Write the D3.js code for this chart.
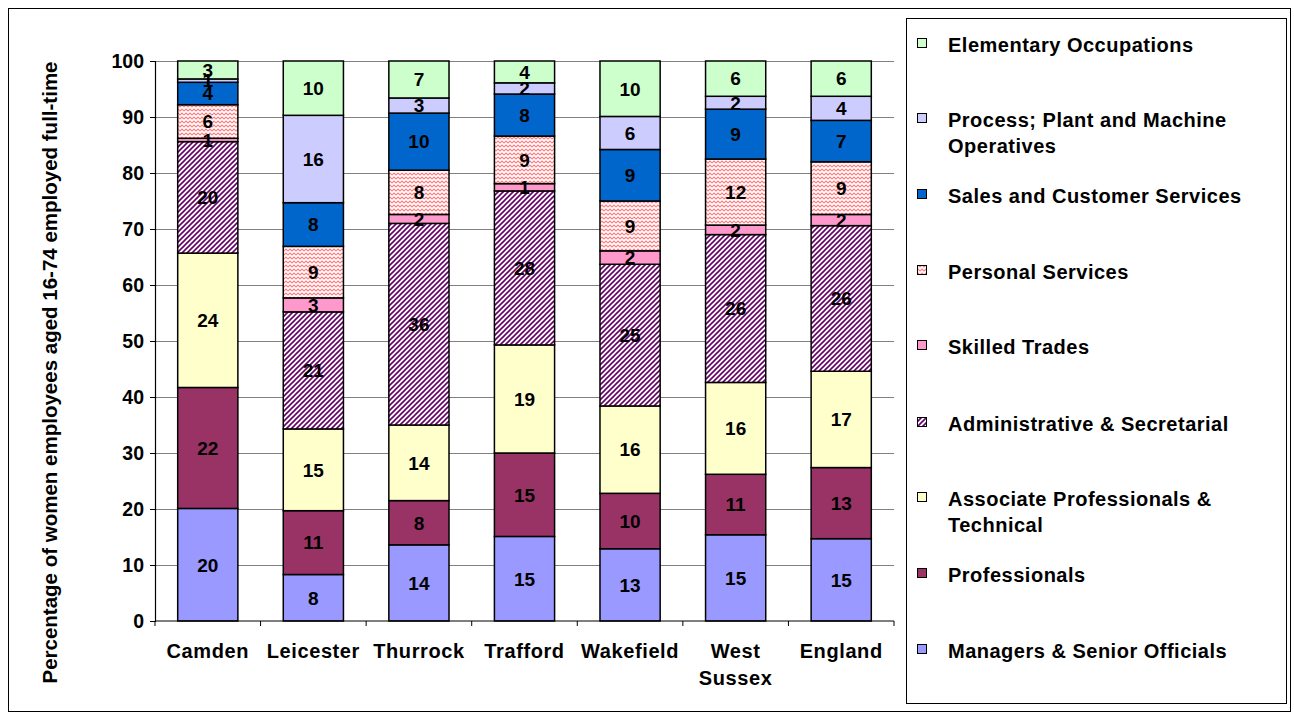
<!DOCTYPE html>
<html>
<head>
<meta charset="utf-8">
<script src="https://cdn.jsdelivr.net/npm/d3@7"></script>
<style>
  html, body { margin: 0; padding: 0; background: #fff; }
  svg { display: block; font-family: "Liberation Sans", Arial, sans-serif; font-weight: bold; }
</style>
</head>
<body>
<svg id="chart" width="1294" height="717"></svg>
<script>
// Areas and occupation groups
const areas = ["Camden", "Leicester", "Thurrock", "Trafford", "Wakefield", "West Sussex", "England"];
const occupations = [
  "Managers & Senior Officials",
  "Professionals",
  "Associate Professionals & Technical",
  "Administrative & Secretarial",
  "Skilled Trades",
  "Personal Services",
  "Sales and Customer Services",
  "Process; Plant and Machine Operatives",
  "Elementary Occupations"
];
// Legend wording (line breaks as shown in the key)
const legendLines = [
  ["Managers & Senior Officials"],
  ["Professionals"],
  ["Associate Professionals &", "Technical"],
  ["Administrative & Secretarial"],
  ["Skilled Trades"],
  ["Personal Services"],
  ["Sales and Customer Services"],
  ["Process; Plant and Machine", "Operatives"],
  ["Elementary Occupations"]
];

// Percentage of women employed full-time in each group, one array per area (same order as occupations)
const camden     = [20.1, 21.6, 24.0, 19.9, 0.6, 6.0, 4.0, 0.6, 3.2];
const leicester  = [8.3, 11.4, 14.6, 20.9, 2.5, 9.2, 7.8, 15.6, 9.7];
const thurrock   = [13.6, 7.9, 13.5, 36.0, 1.6, 7.9, 10.2, 2.7, 6.6];
const trafford   = [15.1, 14.9, 19.3, 27.5, 1.3, 8.5, 7.5, 2.0, 3.9];
const wakefield  = [12.9, 9.9, 15.6, 25.3, 2.4, 8.9, 9.2, 5.9, 9.9];
const westSussex = [15.4, 10.8, 16.4, 26.4, 1.7, 11.8, 8.9, 2.3, 6.3];
const england    = [14.7, 12.7, 17.2, 26.0, 2.0, 9.4, 7.4, 4.3, 6.3];
const areaValues = [camden, leicester, thurrock, trafford, wakefield, westSussex, england];

const yTicks = [0, 10, 20, 30, 40, 50, 60, 70, 80, 90, 100];
const yTitle = "Percentage of women employees aged 16-74 employed full-time";

const rows = areas.map((a, i) => {
  const r = { area: a };
  occupations.forEach((o, j) => { r[o] = areaValues[i][j]; });
  return r;
});

const svg = d3.select("#chart");

// Fills: plain colours plus two hatched patterns
const defs = svg.append("defs");
const stripe = defs.append("pattern").attr("id", "pat-admin")
  .attr("patternUnits", "userSpaceOnUse").attr("width", 5).attr("height", 5);
stripe.append("rect").attr("width", 5).attr("height", 5).attr("fill", "#fff");
stripe.append("path").attr("d", "M-1,1 l2,-2 M0,5 l5,-5 M4,6 l2,-2")
  .attr("stroke", "#660066").attr("stroke-width", 1.6);

const zig = defs.append("pattern").attr("id", "pat-personal")
  .attr("patternUnits", "userSpaceOnUse").attr("width", 8).attr("height", 4);
zig.append("rect").attr("width", 8).attr("height", 4).attr("fill", "#fff");
zig.append("path").attr("d", "M0,3 L2,1 L4,3 L6,1 L8,3")
  .attr("fill", "none").attr("stroke", "#ff7c80").attr("stroke-width", 1.1);

const fills = [
  "#9999ff", "#993366", "#ffffcc", "url(#pat-admin)", "#ff99cc",
  "url(#pat-personal)", "#0066cc", "#ccccff", "#ccffcc"
];
const color = d3.scaleOrdinal().domain(occupations).range(fills);

// Outer frame
svg.append("rect").attr("x", 8.5).attr("y", 8.5).attr("width", 1282).attr("height", 703)
  .attr("fill", "none").attr("stroke", "#000").attr("stroke-width", 1);

const plot = { left: 155, right: 894, top: 61, bottom: 621 };
const x = d3.scaleBand().domain(areas).range([plot.left, plot.right])
  .paddingInner(0.43).paddingOuter(0.215);
const y = d3.scaleLinear().domain([0, 100]).range([plot.bottom, plot.top]);

// Gridlines
svg.append("g").selectAll("line").data(yTicks.filter(t => t > 0)).join("line")
  .attr("x1", plot.left).attr("x2", plot.right)
  .attr("y1", d => y(d) + 0.5).attr("y2", d => y(d) + 0.5)
  .attr("stroke", "#808080").attr("stroke-width", 1);

// Stacked bars
const series = d3.stack().keys(occupations)(rows);
const layers = svg.append("g").selectAll("g").data(series).join("g")
  .attr("fill", d => color(d.key));
layers.selectAll("rect").data(d => d).join("rect")
  .attr("x", d => x(d.data.area))
  .attr("width", x.bandwidth())
  .attr("y", d => y(d[1]))
  .attr("height", d => y(d[0]) - y(d[1]))
  .attr("stroke", "#000").attr("stroke-width", 1.5);

// Value labels
const labels = svg.append("g").attr("text-anchor", "middle").attr("font-size", 19).attr("fill", "#000");
series.forEach(s => {
  labels.selectAll(null).data(s).join("text")
    .attr("x", d => x(d.data.area) + x.bandwidth() / 2)
    .attr("y", d => (y(d[0]) + y(d[1])) / 2)
    .attr("dy", "0.36em")
    .text(d => d3.format(".0f")(d[1] - d[0]));
});

// Y axis
const yAxis = svg.append("g").attr("transform", `translate(${plot.left},0)`)
  .call(d3.axisLeft(y).tickValues(yTicks).tickSize(5).tickPadding(6));
yAxis.select(".domain").attr("stroke", "#000").attr("stroke-width", 1.2);
yAxis.selectAll(".tick line").attr("stroke", "#000");
yAxis.selectAll("text").attr("font-size", 19.5).attr("font-family", "Liberation Sans, Arial, sans-serif")
  .attr("font-weight", "bold").attr("fill", "#000");

// X axis with ticks between categories
const xg = svg.append("g").attr("transform", `translate(0,${plot.bottom})`);
xg.append("line").attr("x1", plot.left).attr("x2", plot.right)
  .attr("stroke", "#000").attr("stroke-width", 1.2);
const step = x.step();
const boundaries = d3.range(areas.length + 1).map(i => i === 0 ? plot.left :
  x(areas[i - 1]) + x.bandwidth() + (step - x.bandwidth()) / 2);
xg.selectAll(".sep").data(boundaries).join("line").attr("class", "sep")
  .attr("x1", d => d).attr("x2", d => d).attr("y1", 0).attr("y2", 5)
  .attr("stroke", "#000");
const xl = xg.selectAll(".cat").data(areas).join("text").attr("class", "cat")
  .attr("text-anchor", "middle").attr("font-size", 20).attr("letter-spacing", 0.6)
  .attr("transform", d => `translate(${x(d) + x.bandwidth() / 2},37)`);
xl.each(function(d) {
  const parts = d.split(" ");
  d3.select(this).selectAll("tspan").data(parts).join("tspan")
    .attr("x", 0).attr("dy", (p, i) => i === 0 ? 0 : 27).text(p => p);
});

// Y title
svg.append("text")
  .attr("transform", `translate(57,${(60 + 685) / 2}) rotate(-90)`)
  .attr("text-anchor", "middle").attr("font-size", 20.5).text(yTitle);

// Legend
svg.append("rect").attr("x", 906.5).attr("y", 18.5).attr("width", 380).attr("height", 685)
  .attr("fill", "#fff").attr("stroke", "#000").attr("stroke-width", 1);
const legendY = [45, 120, 196, 272, 347, 424, 499, 575, 651];
const legendOrder = d3.range(occupations.length).reverse();
const lg = svg.append("g").selectAll("g").data(legendOrder).join("g")
  .attr("transform", (d, i) => `translate(0,${legendY[i]})`);
lg.append("rect").attr("x", 917.5).attr("y", -6.5).attr("width", 9).attr("height", 9)
  .attr("fill", d => fills[d]).attr("stroke", "#000").attr("stroke-width", 1);
lg.append("text").attr("x", 948).attr("y", 0).attr("font-size", 20).attr("letter-spacing", 0.5)
  .each(function(d) {
    d3.select(this).selectAll("tspan").data(legendLines[d]).join("tspan")
      .attr("x", 948).attr("dy", (p, i) => i === 0 ? "0.35em" : 26).text(p => p);
  });
</script>
</body>
</html>
